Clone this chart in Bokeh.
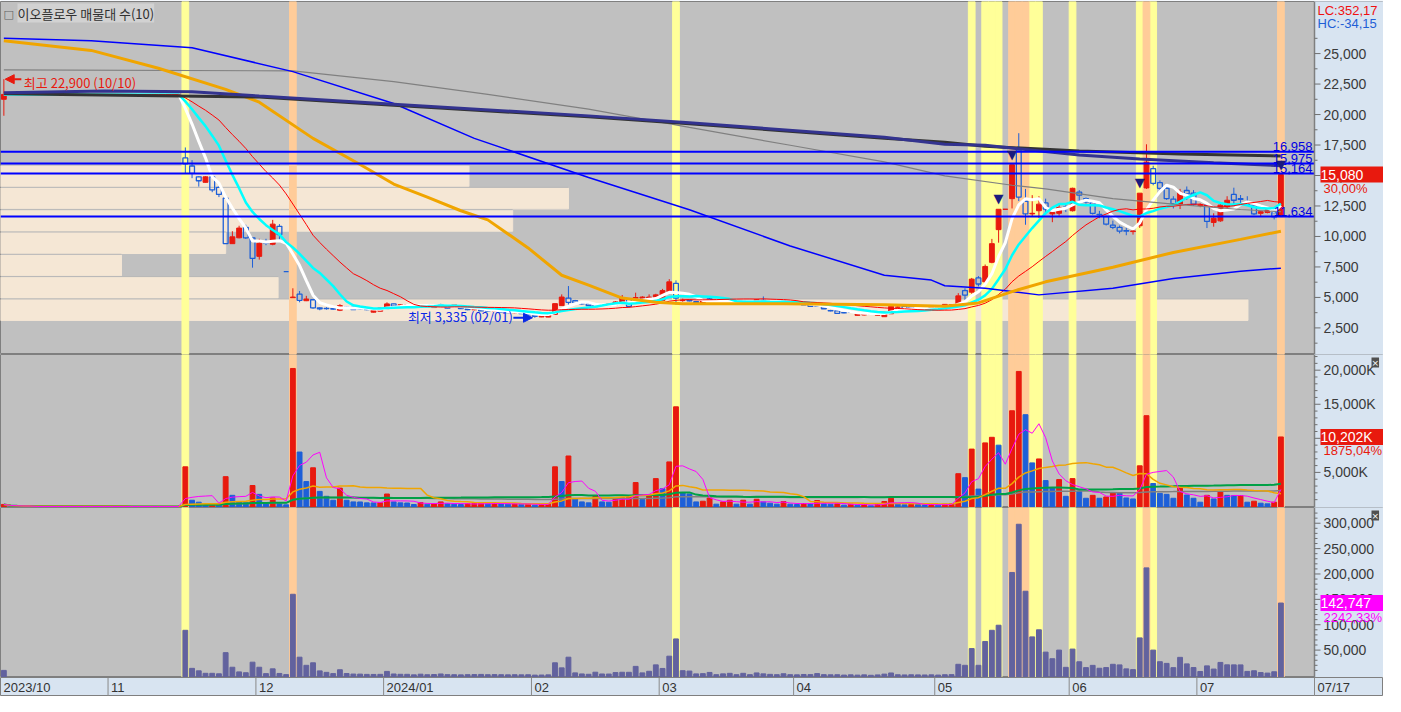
import numpy as np
import pandas as pd
from bokeh.plotting import figure
from bokeh.layouts import column
from bokeh.models import Label, Range1d, Arrow, NormalHead
from bokeh.embed import file_html
from bokeh.resources import INLINE
from bokeh.core.properties import value

# ------------------------------------------------------------------ data
TITLE = "이오플로우 매물대 수(10)"
market_holidays = ["2023-12-25", "2023-12-29", "2024-01-01", "2024-02-09", "2024-02-12",
                   "2024-03-01", "2024-04-10", "2024-05-01", "2024-05-06", "2024-05-15",
                   "2024-06-06"]

opens = ([21250] + [21650] * 26 +
         [16440, 15780, 14890, 14440, 14890, 14030, 13150, 9410, 9890, 10750,
          9890, 8370, 9520, 9360, 10830, 7110, 4980, 5270, 4730, 4810] +
         [4150, 4100, 4090, 3950, 4200, 4195, 4070, 4010, 3790, 3870,
          4070, 4470, 4250, 4400, 4350, 4250, 4400, 4170, 4410, 4250] +
         [4280, 4300, 4050, 3990, 4030, 3900, 3870, 3930, 3800, 3740,
          3780, 3680, 3520, 3400, 3390, 3610, 4330, 4950, 4730, 4480] +
         [4470, 4400, 4360, 4330, 4390, 4490, 4890, 4950, 4950, 4870,
          4890, 4760, 5480, 6150, 4740, 4760, 4650, 4550, 4870, 4730, 4630] +
         [4700, 4550, 4680, 4570, 4490, 4760, 4660, 4540, 4600, 4660,
          4520, 4460, 4430, 4300, 4230, 3920, 3900, 3760, 3800, 3530] +
         [3560, 3600, 3540, 3420, 3660, 4200, 4270, 4230, 3950, 3960, 3950, 4200, 4070, 4200] +
         [4410, 5560, 5430, 6600, 6280, 7880, 10560] + [12230] +
         [13100, 17080, 12890, 11850, 12110, 12750, 11850, 11900, 12400, 12110] +
         [13630, 13100, 12770, 11800, 11630, 10930, 10750, 10480, 10400, 10880, 13980] +
         [15560, 14410, 13950, 13070, 12650, 13770, 13550, 12550, 12570, 11150] +
         [11280, 12430, 13450, 13100, 12770, 12570, 11900, 11970, 11950, 11634])

highs = ([22900] + [21650] * 26 +
         [17300, 16260, 14950, 14950, 14950, 14110, 13150, 10430, 10880, 10960,
          9950, 9810, 9810, 11360, 11010, 7110, 5750, 5530, 5130, 4870] +
         [4200, 4200, 4130, 4450, 4290, 4250, 4130, 4050, 3990, 4190,
          4600, 4500, 4450, 4450, 4400, 4430, 4420, 4330, 4480, 4290] +
         [4410, 4330, 4120, 4080, 4070, 3960, 3950, 3950, 3850, 3800,
          3790, 3700, 3560, 3560, 3800, 4520, 5250, 5935, 4800, 4560] +
         [4500, 4420, 4400, 4520, 4700, 5200, 4950, 5390, 5100, 5250,
          5300, 5700, 6500, 6400, 4900, 4820, 4700, 4750, 4950, 4780, 4800] +
         [4720, 4580, 4700, 4700, 4880, 5080, 4700, 4650, 4720, 4680,
          4560, 4500, 4450, 4340, 4260, 3980, 3920, 3800, 3830, 3660] +
         [3680, 3680, 3730, 3820, 4300, 4280, 4300, 4260, 4020, 4080, 4300, 4260, 4450, 4420] +
         [5350, 5750, 6600, 6750, 7700, 9800, 12230] + [12230] +
         [15890, 18470, 13900, 13390, 13300, 13100, 12370, 12700, 12600, 14000] +
         [13800, 13200, 12900, 12100, 11700, 11300, 10900, 10700, 10700, 13550, 17560] +
         [15800, 14600, 14100, 13300, 13900, 14100, 13800, 12700, 12700, 11900] +
         [12650, 13300, 14000, 13400, 13300, 12650, 12100, 12250, 12050, 15080])

lows = ([19900] + [21650] * 26 +
        [15160, 14780, 14090, 14400, 13630, 13230, 9420, 9400, 9850, 9800,
         7440, 8100, 9280, 9280, 9700, 7110, 4980, 4600, 4700, 4070] +
        [3950, 4000, 3990, 3880, 4130, 3990, 4000, 3950, 3760, 3850,
         4050, 4250, 4220, 4350, 4230, 4230, 4220, 4150, 4280, 4100] +
        [4250, 4050, 3950, 3940, 3880, 3820, 3850, 3780, 3720, 3700,
         3660, 3560, 3335, 3380, 3380, 3580, 4300, 4330, 4500, 4400] +
        [4300, 4230, 4300, 4300, 4360, 4470, 4200, 4900, 4920, 4850,
         4860, 4740, 5450, 4410, 4650, 4680, 4520, 4520, 4650, 4590, 4600] +
        [4540, 4480, 4600, 4550, 4470, 4560, 4520, 4520, 4580, 4500,
         4440, 4380, 4250, 4250, 4050, 3860, 3680, 3700, 3740, 3500] +
        [3530, 3580, 3520, 3400, 3640, 4120, 4050, 3950, 3900, 3930, 3930, 4020, 4040, 4150] +
        [4330, 4810, 5300, 5900, 6200, 7800, 9490] + [12230] +
        [12300, 12900, 10960, 11630, 11500, 11800, 11170, 11700, 12000, 12050] +
        [12830, 12700, 11800, 11500, 10900, 10600, 10250, 10100, 10150, 10700, 13900] +
        [14200, 13630, 13000, 12300, 12250, 13000, 12500, 12400, 10690, 10800] +
        [11200, 12300, 12600, 12600, 12550, 11750, 11650, 11900, 11400, 11600])

closes = ([21650] + [21650] * 26 +
          [15960, 15180, 14570, 14890, 13820, 13450, 9420, 9970, 10690, 9890,
           8200, 9440, 9470, 11010, 10160, 7110, 5030, 4760, 4870, 4150] +
          [4070, 4090, 4050, 4330, 4190, 4010, 4060, 4000, 3950, 4150,
           4470, 4280, 4400, 4410, 4250, 4400, 4250, 4300, 4400, 4120] +
          [4400, 4080, 4010, 4030, 3900, 3880, 3930, 3800, 3760, 3780,
           3680, 3580, 3450, 3520, 3750, 4490, 5030, 4600, 4550, 4470] +
          [4330, 4250, 4350, 4490, 4630, 4950, 4270, 4990, 5030, 5030,
           5210, 5560, 6280, 4950, 4760, 4730, 4550, 4730, 4680, 4620, 4760] +
          [4570, 4500, 4650, 4650, 4810, 4600, 4540, 4630, 4700, 4520,
           4460, 4400, 4270, 4290, 4070, 3900, 3690, 3740, 3780, 3630] +
          [3650, 3630, 3700, 3790, 4270, 4210, 4070, 3970, 3970, 4070, 4270, 4050, 4430, 4400] +
          [5130, 5190, 6500, 6100, 7540, 9410, 12230] + [12230] +
          [15890, 13230, 11850, 11900, 12650, 12250, 11970, 12370, 12370, 13950] +
          [13390, 12830, 11900, 11770, 11010, 10750, 10430, 10430, 10450, 13550, 16100] +
          [14360, 13950, 13100, 12690, 13630, 13500, 12650, 12580, 11230, 11500] +
          [12570, 12970, 12970, 13050, 12620, 11850, 12030, 12170, 11600, 15080])

volumes_k = ([300] + [0] * 26 +
             [5820, 914, 625, 289, 300, 241, 4377, 1635, 673, 529,
              3078, 1780, 385, 1251, 385, 241, 20250, 7985, 3656, 5676] +
             [2213, 1491, 914, 2694, 914, 673, 660, 529, 520, 540,
              1828, 673, 529, 510, 289, 577, 337, 433, 673, 385] +
             [337, 289, 385, 433, 529, 385, 433, 385, 337, 385,
              337, 385, 192, 241, 337, 5820, 3656, 7407, 1106, 673] +
             [529, 1491, 673, 625, 1251, 1299, 1395, 3511, 1010, 1635,
              4089, 2597, 6542, 14622, 1972, 1828, 673, 770, 1251, 337, 673] +
             [914, 337, 914, 337, 1058, 673, 481, 337, 722, 337,
              289, 433, 385, 866, 385, 337, 385, 192, 337, 192] +
             [337, 100, 289, 722, 1203, 337, 241, 337, 289, 241, 300, 192, 337, 385] +
             [4810, 4233, 8418, 2549, 9331, 10149, 8995] + [0] +
             [14045, 19817, 13468, 6397, 6975, 3800, 2742, 3944, 1491, 4089] +
             [2213, 1203, 1635, 1203, 1395, 2020, 1972, 1251, 1106, 5964, 13324] +
             [3367, 1924, 1780, 1203, 2694, 1684, 1203, 625, 1635, 1106] +
             [2116, 1635, 1587, 1600, 625, 770, 481, 385, 625, 10202])

trade_value_m = ([10000] + [0] * 26 +
                 [89000, 14000, 9100, 4250, 4230, 3280, 45000, 16200, 7070, 5400,
                  26200, 16200, 3660, 13100, 3970, 1710, 160000, 36000, 20000, 25000] +
                 [9000, 6100, 3700, 11300, 3840, 2750, 2680, 2120, 2030, 2190,
                  7990, 2920, 2310, 2240, 1240, 2510, 1450, 1840, 2950, 1610] +
                 [1470, 1200, 1550, 1740, 2090, 1500, 1690, 1480, 1270, 1450,
                  1250, 1390, 660, 840, 1230, 25000, 15000, 36000, 5110, 3010] +
                 [2320, 6410, 2930, 2780, 5700, 6330, 6240, 17900, 5070, 8240,
                  20900, 13800, 38000, 72000, 9400, 8660, 3090, 3600, 5950, 1570, 3180] +
                 [4210, 1520, 4250, 1560, 4990, 3180, 2210, 1550, 3370, 1540,
                  1300, 1920, 1660, 3720, 1590, 1320, 1450, 720, 1270, 690] +
                 [1220, 360, 1050, 2650, 4900, 1420, 1000, 1370, 1140, 970, 1250, 790, 1450, 1660] +
                 [22000, 20000, 53000, 20000, 67000, 89000, 99000] + [0] +
                 [203000, 298000, 166000, 76000, 90000, 46000, 33000, 50000, 16000, 52000] +
                 [27000, 15500, 19900, 14200, 15600, 22000, 20800, 13000, 11500, 74000, 212000] +
                 [50000, 27100, 23800, 15400, 35700, 22800, 15600, 7850, 18900, 12600] +
                 [25700, 21000, 20900, 20800, 8000, 9300, 5740, 4660, 7300, 142747])

# long moving averages (trading-day index, price)
ma60_day = [0, 13, 23, 33, 38, 46, 53, 58, 63, 68, 72, 78, 83, 87, 92, 97, 101, 116, 131, 140, 145, 150, 155, 165, 174, 184, 190]
ma60_val = [26060, 25260, 23800, 22060, 21010, 18045, 15900, 14300, 13230, 12110, 11360, 9060, 6820, 6015, 4950, 4600, 4490, 4490, 4400, 4275, 4550, 5480, 6280, 7480, 8690, 9760, 10430]
ma120_day = [0, 13, 28, 43, 58, 70, 87, 102, 117, 131, 138, 140, 146, 154, 165, 174, 184, 190]
ma120_val = [26250, 26060, 25480, 23520, 20900, 18045, 14840, 12190, 9220, 6820, 6420, 5960, 5750, 5210, 5750, 6550, 7140, 7400]
ma240_day = [0, 43, 58, 72, 87, 102, 117, 131, 140, 150, 155, 165, 174, 184, 190]
ma240_val = [23660, 23580, 22700, 21650, 20450, 18940, 17480, 16120, 14970, 14200, 13900, 13100, 12650, 12210, 12030]
long_a_day = [0, 15, 28, 38, 58, 87, 102, 131, 140, 146, 160, 169, 180, 190]
long_a_val = [21790, 21920, 21870, 21520, 20850, 19890, 19330, 18130, 17560, 17480, 16680, 16360, 16040, 15800]
long_b_day = [0, 38, 58, 87, 102, 131, 140, 146, 160, 175, 190]
long_b_val = [21700, 21440, 20770, 19810, 19250, 18050, 17720, 17400, 17000, 16760, 16600]

# price-volume bands (lower bound, relative length in trading days)
band_low = [3050, 4880, 6710, 8540, 10370, 12200, 14030]
band_step = 1830
band_len = [185.1, 40.8, 17.5, 33.0, 75.7, 84.0, 69.2]

yellow_days = [27, 100, 144, 146, 147, 148, 153, 154, 159, 169, 171]
orange_days = [43, 150, 151, 152, 170, 190]
signal_days = [148, 150, 169, 190]
price_lines = [16958, 15975, 15164, 11634]
price_ticks = [2500, 5000, 7500, 10000, 12500, 15000, 17500, 20000, 22500, 25000]
volume_ticks = [5000, 10000, 15000, 20000]
value_ticks = [50000, 100000, 150000, 200000, 250000, 300000]
lc_hc = ["LC:352,17", "HC:-34,15"]
last_pct = ["30,00%", "1875,04%", "2242,33%"]

# ------------------------------------------------------------------ prep
n = len(closes)
dates = [d for d in pd.bdate_range("2023-10-10", "2024-07-17")
         if d.strftime("%Y-%m-%d") not in market_holidays][:n]
x = np.arange(n)
O = np.array(opens, float); H = np.array(highs, float)
L = np.array(lows, float); C = np.array(closes, float)
V = np.array(volumes_k, float); TV = np.array(trade_value_m, float)

prevC = np.concatenate([[C[0]], C[:-1]])
up = (C > O) | ((C == O) & (C >= prevC))
btop = np.maximum(O, C); bbot = np.minimum(O, C)
prevV = np.concatenate([[0], V[:-1]])
vup = V >= prevV

RED = "#E8190E"; BLU = "#1D5FD8"; BG = "#C0C0C0"; AXBG = "#D8E4F1"
BAND = "#F5E7D5"; YEL = "#FFFF99"; ORG = "#FFCC99"; NAVY = "#1B1B7E"
GRID = "#7F7F7F"; TXT = "#3A3A3A"

TW = 1383                 # total width
AXW = 69                  # axis column width (px)
FW = TW - AXW             # plotting area width (px)
x0 = -0.5
plot_end = n - 1 + 5.0
ppd = FW / (plot_end - x0)            # pixels per trading day
xr = Range1d(x0, x0 + TW / ppd)

def mk(h, yr, top=0):
    p = figure(frame_width=TW, frame_height=h, x_range=xr, y_range=yr,
               x_axis_location=None, y_axis_location=None,
               toolbar_location=None, output_backend="svg",
               min_border_left=0, min_border_right=0, min_border_top=top,
               min_border_bottom=0, background_fill_color=BG,
               border_fill_color=AXBG, outline_line_color=GRID)
    p.grid.visible = False
    return p

def axis_column(p, yr, ticks, minor, labels):
    p.quad(left=plot_end, right=xr.end, bottom=yr.start, top=yr.end, color=AXBG)
    p.segment(x0=plot_end, x1=plot_end, y0=yr.start, y1=yr.end, color=GRID, line_width=1.5)
    p.segment(x0=plot_end, x1=plot_end + 6 / ppd, y0=ticks, y1=ticks, color="#6F6F6F")
    p.segment(x0=plot_end, x1=plot_end + 3 / ppd, y0=minor, y1=minor, color="#6F6F6F")
    p.text(x=plot_end, y=ticks, text=labels, x_offset=9, text_baseline="middle",
           text_color=TXT, text_font=value("Liberation Sans"), text_font_size="14px")

def stripes(p, yr):
    p.vbar(x=yellow_days, width=1, bottom=yr.start, top=yr.end, color=YEL)
    p.vbar(x=orange_days, width=1, bottom=yr.start, top=yr.end, color=ORG)

def tag(p, yv, txt, bg, sub, subcol):
    p.add_layout(Label(x=plot_end, y=yv, x_offset=6, text=txt, text_color="white",
                       text_font="Liberation Sans", text_font_size="14px",
                       background_fill_color=bg, text_baseline="middle"))
    p.add_layout(Label(x=plot_end, y=yv, x_offset=9, y_offset=-14, text=sub,
                       text_color=subcol, text_font="Liberation Sans",
                       text_font_size="13px", text_baseline="middle"))

def icon(p, fh):
    p.add_layout(Label(x=xr.end, y=fh - 3, x_offset=-12, y_units="screen", text="×",
                       text_color="white", background_fill_color="#505050",
                       text_font="DejaVu Sans", text_font_size="9px", text_baseline="top"))

# ------------------------------------------------------------------ price panel
FH1 = 353
yr1 = Range1d(320, 29270)
p1 = mk(FH1, yr1, top=1)

p1.hbar(y=[b + band_step / 2 for b in band_low], height=band_step * 0.93,
        left=x0, right=band_len, color=BAND)
p1.segment(x0=x0, x1=band_len, y0=[b + band_step for b in band_low],
           y1=[b + band_step for b in band_low], color="#B8B8B8", line_width=1)
stripes(p1, yr1)

wc = np.where(up, RED, BLU)
p1.segment(x0=x, x1=x, y0=btop, y1=H, color=wc, line_width=1)
p1.segment(x0=x, x1=x, y0=L, y1=bbot, color=wc, line_width=1)
p1.vbar(x=x[up], width=0.72, top=btop[up], bottom=bbot[up], fill_color=RED, line_color=RED)
p1.vbar(x=x[~up], width=0.72, top=btop[~up], bottom=bbot[~up], fill_alpha=0,
        line_color=BLU, line_width=1.3)

cs = pd.Series(C)
p1.line(x, cs.rolling(5, min_periods=1).mean(), color="white", line_width=3)
p1.line(x, cs.rolling(10, min_periods=1).mean(), color="#00FFFF", line_width=2.5)
p1.line(x, cs.rolling(20, min_periods=1).mean(), color="#FF0000", line_width=1)
p1.line(ma240_day, ma240_val, color="#808080", line_width=1.2)
p1.line(ma120_day, ma120_val, color="#0000FF", line_width=1.5)
p1.line(ma60_day, ma60_val, color="#F0A500", line_width=3)
p1.line(long_b_day, long_b_val, color="#333333", line_width=3)
p1.line(long_a_day, long_a_val, color="#33338F", line_width=3)

p1.segment(x0=x0, x1=plot_end, y0=price_lines, y1=price_lines, color="#0000FF", line_width=2)
p1.text(x=plot_end, y=price_lines, text=[f"{v:,}" for v in price_lines], x_offset=-2,
        y_offset=-1, text_align="right", text_baseline="bottom", text_color="#0000E0",
        text_font=value("Liberation Sans"), text_font_size="13px")

p1.text(x=list(signal_days), y=[H[d] for d in signal_days], text=["▼"] * len(signal_days),
        text_align="center", text_baseline="bottom", y_offset=-3,
        text_color=NAVY, text_font=value("DejaVu Sans"), text_font_size="13px")

ihi = int(np.argmax(H)); ilo = int(np.argmin(L))
p1.add_layout(Arrow(x_start=ihi + 2.6, y_start=H[ihi], x_end=ihi + 0.2, y_end=H[ihi],
                    line_color=RED, line_width=2,
                    end=NormalHead(size=9, fill_color=RED, line_color=RED)))
p1.add_layout(Label(x=ihi, y=H[ihi], x_offset=20, y_offset=-3,
                    text=f"최고 {int(H[ihi]):,} ({dates[ihi]:%m/%d})",
                    text_color=RED, text_font="Noto Sans CJK KR", text_font_size="13px",
                    text_baseline="middle"))
p1.add_layout(Arrow(x_start=ilo - 3.2, y_start=L[ilo], x_end=ilo - 0.35, y_end=L[ilo],
                    line_color="#0A2AE6", line_width=2,
                    end=NormalHead(size=9, fill_color="#0A2AE6", line_color="#0A2AE6")))
p1.add_layout(Label(x=ilo, y=L[ilo], x_offset=-22, y_offset=1,
                    text=f"최저 {int(L[ilo]):,} ({dates[ilo]:%m/%d})", text_align="right",
                    text_color="#0A2AE6", text_font="Noto Sans CJK KR", text_font_size="13px",
                    text_baseline="middle"))

axis_column(p1, yr1, price_ticks, [t + 1250 for t in price_ticks] + [1250],
            [f"{t:,}" for t in price_ticks])

p1.add_layout(Label(x=3, y=FH1 - 6, x_units="screen", y_units="screen", text="□",
                    text_color="#606060", text_font="DejaVu Sans", text_font_size="11px",
                    text_baseline="top"))
p1.add_layout(Label(x=17, y=FH1 - 2, x_units="screen", y_units="screen", text=TITLE,
                    text_color="#303030", text_font="Noto Sans CJK KR", text_font_size="13px",
                    text_baseline="top", background_fill_color="#D2D2D2"))
p1.add_layout(Label(x=plot_end, x_offset=3, y=FH1 - 1, y_units="screen", text=lc_hc[0],
                    text_color="#F01010", text_font="Liberation Sans", text_font_size="13px",
                    text_baseline="top"))
p1.add_layout(Label(x=plot_end, x_offset=3, y=FH1 - 14, y_units="screen", text=lc_hc[1],
                    text_color="#1F5FD6", text_font="Liberation Sans", text_font_size="13px",
                    text_baseline="top"))
tag(p1, C[-1], f" {int(C[-1]):,}     ", RED, last_pct[0], "#E8190E")

# ------------------------------------------------------------------ volume panel
FH2 = 153
yr2 = Range1d(-150, 22300)
p2 = mk(FH2, yr2)
stripes(p2, yr2)
nz = V > 0
p2.vbar(x=x[nz], width=0.72, bottom=yr2.start, top=V[nz],
        color=np.where(vup[nz], RED, BLU))
vs = pd.Series(V)
p2.line(x, vs.rolling(120, min_periods=1).mean(), color="#808080", line_width=1.5)
p2.line(x, vs.rolling(60, min_periods=1).mean(), color="#00A046", line_width=2)
p2.line(x, vs.rolling(20, min_periods=1).mean(), color="#F0A500", line_width=1.5)
p2.line(x, vs.rolling(5, min_periods=1).mean(), color="#FF00FF", line_width=1)
axis_column(p2, yr2, volume_ticks, [k * 1000 for k in range(1, 23) if k % 5],
            [f"{t:,}K" for t in volume_ticks])
tag(p2, V[-1], f" {int(V[-1]):,}K   ", RED, last_pct[1], "#E8190E")
icon(p2, FH2)

# ------------------------------------------------------------------ trade value panel
FH3 = 170
yr3 = Range1d(-4000, 331000)
p3 = mk(FH3, yr3)
stripes(p3, yr3)
nz3 = TV > 0
p3.vbar(x=x[nz3], width=0.72, bottom=yr3.start, top=TV[nz3], color="#62629E")
axis_column(p3, yr3, value_ticks, [10000 * k for k in range(1, 33) if k % 5],
            [f"{t:,}" for t in value_ticks])
tag(p3, TV[-1], f" {int(TV[-1]):,}    ", "#FF00FF", last_pct[2], "#FF00FF")
icon(p3, FH3)

# ------------------------------------------------------------------ date strip
p4 = mk(19, Range1d(0, 1))
p4.background_fill_color = AXBG
bounds = [x0]
labels = [f"{dates[0]:%Y/%m}"]
for i in range(1, len(dates)):
    if dates[i].month != dates[i - 1].month:
        bounds.append(i - 0.5)
        labels.append(f"{dates[i]:%Y/%m}" if dates[i].month == 1 else f"{dates[i]:%m}")
p4.segment(x0=bounds[1:] + [plot_end], x1=bounds[1:] + [plot_end], y0=0, y1=1,
           color="#8A8A8A", line_width=1)
p4.text(x=bounds + [plot_end], y=[0.5] * (len(bounds) + 1),
        text=labels + [f"{dates[-1]:%m/%d}"], x_offset=3, text_baseline="middle",
        text_color="#333333", text_font=value("Liberation Sans"), text_font_size="13px")

layout = column(p1, p2, p3, p4, spacing=0)
open("out.html", "w").write(file_html(layout, INLINE, "chart"))
